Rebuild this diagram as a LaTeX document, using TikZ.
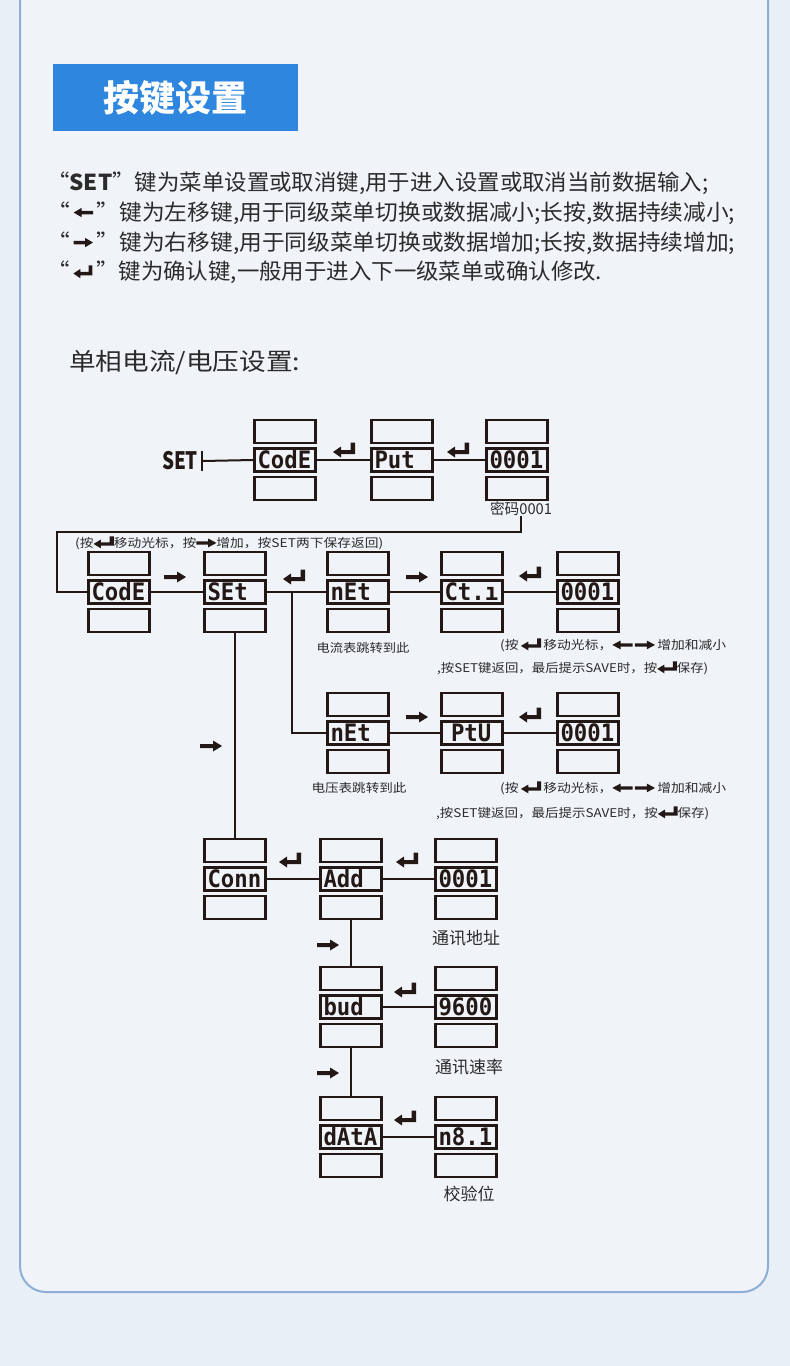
\documentclass[tikz,border=0pt]{standalone}
\usepackage{graphicx}
\usepackage{fontspec}
\setmainfont{Noto Sans CJK SC}
\newfontfamily\lcdfont{DejaVu Sans Mono}
\usetikzlibrary{positioning}

\definecolor{ink}{HTML}{231815}
\definecolor{txt}{HTML}{2B2B2B}
\definecolor{bgout}{HTML}{E8EFF7}
\definecolor{panel}{HTML}{F0F4F9}
\definecolor{frame}{HTML}{8CB0D5}
\definecolor{titleblue}{HTML}{2E86DE}

% small key icons for running text
\newcommand\kenter[2][0pt]{\raisebox{#1}{\tikz[x=#2pt,y=#2pt]\fill[ink] (11,7.5)--(11,-4)--(-3,-4)--(-3,-7.5)--(-11,-2)--(-3,3.5)--(-3,0)--(6.5,0)--(6.5,7.5)--cycle;}}
\newcommand\kright[2][0pt]{\raisebox{#1}{\tikz[x=#2pt,y=#2pt]\fill[ink] (-11,2)--(2,2)--(2,5.5)--(11,0)--(2,-5.5)--(2,-2)--(-11,-2)--cycle;}}
\newcommand\kleft[2][0pt]{\raisebox{#1}{\tikz[x=#2pt,y=#2pt]\fill[ink] (11,2)--(-2,2)--(-2,5.5)--(-11,0)--(-2,-5.5)--(-2,-2)--(11,-2)--cycle;}}

\tikzset{
  lcdbox/.style={draw=ink, line width=2.3pt, minimum width=61pt, minimum height=23pt, inner sep=0pt},
  lcd/.style={lcdbox, inner xsep=3pt, text=ink, text height=17.5pt, text depth=0pt,
    font=\lcdfont\bfseries\fontsize{24}{24}\selectfont},
  wire/.style={draw=ink, line width=2pt},
  keyline/.style={anchor=west, inner sep=0pt, text=txt, font=\fontsize{22}{26}\selectfont},
  hint/.style={anchor=west, inner sep=0pt, text=txt, font=\fontsize{12}{14}\selectfont},
  tag/.style={inner sep=0pt, text=txt, font=\fontsize{17}{20}\selectfont},
  enter/.pic={\fill[ink] (11,-7.5)--(11,4)--(-3,4)--(-3,7.5)--(-11,2)--(-3,-3.5)--(-3,0)--(6.5,0)--(6.5,-7.5)--cycle;},
  rarrow/.pic={\fill[ink] (-11,2)--(2,2)--(2,5.5)--(11,0)--(2,-5.5)--(2,-2)--(-11,-2)--cycle;}
}

% one display: middle window with text, empty windows above and below
\newcommand\disp[4]{%
  \node[lcd] (#1) at (#2,#3) {\makebox[55pt][l]{\scalebox{0.93}[1]{#4}}};
  \node[lcdbox, above=3pt of #1] (#1-t) {};
  \node[lcdbox, below=3pt of #1] (#1-b) {};}

\begin{document}
\begin{tikzpicture}[x=1pt,y=-1pt]
  \useasboundingbox (0,0) rectangle (790,1366);
  \fill[bgout] (0,0) rectangle (790,1366);
  \filldraw[fill=panel, draw=frame, line width=2pt, rounded corners=26pt] (20,-40) rectangle (768,1292);

  % Title
  \node[fill=titleblue, minimum width=245pt, minimum height=67pt, anchor=north west,
    text=white, font=\bfseries\fontsize{36}{40}\selectfont] (title) at (53,64) {按键设置};

  % Key description
  \node[keyline] (keyA) at (47,183) {\resizebox{661pt}{\height}{“\textbf{SET}”键为菜单设置或取消键,用于进入设置或取消当前数据输入;}};
  \node[keyline] (keyB) at (47,213) {\resizebox{688pt}{\height}{“\,\kleft[3pt]{0.85}\,”键为左移键,用于同级菜单切换或数据减小;长按,数据持续减小;}};
  \node[keyline] (keyC) at (47,243) {\resizebox{688pt}{\height}{“\,\kright[3pt]{0.85}\,”键为右移键,用于同级菜单切换或数据增加;长按,数据持续增加;}};
  \node[keyline] (keyD) at (47,272) {\resizebox{555pt}{\height}{“\,\kenter[1pt]{0.85}\,”键为确认键,一般用于进入下一级菜单或确认修改.}};

  \node[keyline, font=\fontsize{24}{28}\selectfont] (head) at (69,363) {\resizebox{231pt}{\height}{单相电流/电压设置:}};

  % Displays
  \disp{codeA}{285}{460}{CodE}
  \disp{putA}{402}{460}{Put}
  \disp{pwdA}{517}{460}{0001}
  \disp{codeB}{119}{592}{CodE}
  \disp{setB}{235}{592}{SEt}
  \disp{netA}{358}{592}{nEt}
  \disp{ctA}{472}{592}{Ct.ı}
  \disp{valA}{588}{592}{0001}
  \disp{netB}{358}{733}{nEt}
  \disp{ptuA}{472}{733}{\hspace*{7pt}PtU}
  \disp{valB}{588}{733}{0001}
  \disp{connA}{235}{879}{Conn}
  \disp{addA}{351}{879}{Add}
  \disp{valC}{466}{879}{0001}
  \disp{budA}{351}{1007}{bud}
  \disp{valD}{466}{1007}{9600}
  \disp{dataA}{351}{1137}{dAtA}
  \disp{valE}{466}{1137}{n8.1}

  % Labels
  \node[inner sep=0pt, text=ink, font=\bfseries\fontsize{24}{24}\selectfont] (setkey) at (180,461) {\resizebox{36pt}{\height}{SET}};
  \coordinate (setbar) at (202,461);
  \node[tag, font=\fontsize{15}{18}\selectfont] (pwdtxt) at (521,509) {\resizebox{62pt}{\height}{密码0001}};
  \node[hint] (hintA) at (75,543) {\resizebox{308pt}{\height}{(按\kenter[-1pt]{0.8}移动光标，按\kright[0pt]{0.8}增加，按SET两下保存返回)}};
  \node[tag, font=\fontsize{12}{14}\selectfont] (jumpA) at (363,648) {\resizebox{93pt}{\height}{电流表跳转到此}};
  \node[hint] (hintB) at (500,645) {\resizebox{226pt}{\height}{(按\,\kenter[-1pt]{0.8}\,移动光标，\kleft[0pt]{0.8}\,\kright[0pt]{0.8}\,增加和减小}};
  \node[hint] (hintC) at (437,668) {\resizebox{271pt}{\height}{,按SET键返回，最后提示SAVE时，按\kenter[-1pt]{0.8}保存)}};
  \node[tag, font=\fontsize{12}{14}\selectfont] (jumpB) at (359,788) {\resizebox{95pt}{\height}{电压表跳转到此}};
  \node[hint] (hintD) at (500,788) {\resizebox{226pt}{\height}{(按\,\kenter[-1pt]{0.8}\,移动光标，\kleft[0pt]{0.8}\,\kright[0pt]{0.8}\,增加和减小}};
  \node[hint] (hintE) at (436,813) {\resizebox{273pt}{\height}{,按SET键返回，最后提示SAVE时，按\kenter[-1pt]{0.8}保存)}};
  \node[tag] (addrtxt) at (466,938) {通讯地址};
  \node[tag] (baudtxt) at (469,1067) {通讯速率};
  \node[tag] (chktxt) at (469,1194) {校验位};

  % Connections
  \draw[wire] ([yshift=10pt]setbar) -- ([yshift=-10pt]setbar);
  \draw[wire] (setbar) -- (codeA.west);
  \draw[wire] (codeA) -- (putA) -- (pwdA);
  \coordinate (ret) at (57,532);
  \draw[wire] (pwdtxt.south) |- (ret) |- (codeB.west);
  \draw[wire] (codeB) -- (setB) -- (netA) -- (ctA) -- (valA);
  \coordinate (br) at (292,592);
  \draw[wire] (br) |- (netB.west);
  \draw[wire] (netB) -- (ptuA) -- (valB);
  \draw[wire] (setB-b.south) -- (connA-t.north);
  \draw[wire] (connA) -- (addA) -- (valC);
  \draw[wire] (addA-b.south) -- (budA-t.north);
  \draw[wire] (budA) -- (valD);
  \draw[wire] (budA-b.south) -- (dataA-t.north);
  \draw[wire] (dataA) -- (valE);

  % Key marks
  \pic at (344,450) {enter};
  \pic at (458,450) {enter};
  \pic at (175,577) {rarrow};
  \pic at (294,577) {enter};
  \pic at (417,577) {rarrow};
  \pic at (530,574) {enter};
  \pic at (417,717) {rarrow};
  \pic at (530,715) {enter};
  \pic at (211,746) {rarrow};
  \pic at (290,860) {enter};
  \pic at (407,860) {enter};
  \pic at (328,945) {rarrow};
  \pic at (405,990) {enter};
  \pic at (328,1073) {rarrow};
  \pic at (405,1118) {enter};
\end{tikzpicture}
\end{document}
